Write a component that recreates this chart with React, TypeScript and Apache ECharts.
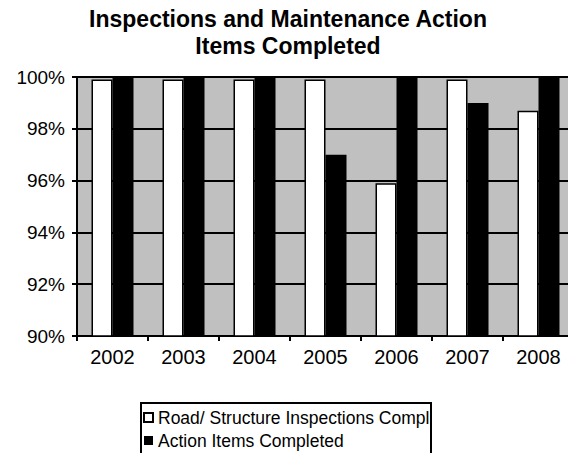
import React, { useEffect, useRef } from "react";
import * as echarts from "echarts";

const categories = ["2002", "2003", "2004", "2005", "2006", "2007", "2008"];
const inspections = [99.9, 99.9, 99.9, 99.9, 95.9, 99.9, 98.7];
const actionItems = [100, 100, 100, 97.0, 100, 99.0, 100];
const seriesNames = ["Road/ Structure Inspections Completed", "Action Items Completed"];
const titleText = "Inspections and Maintenance Action\nItems Completed";

export default function App() {
  const ref = useRef<HTMLDivElement>(null);
  useEffect(() => {
    const chart = echarts.init(ref.current!, null, { renderer: "svg" });
    const font = "'Liberation Sans', Arial, sans-serif";
    chart.setOption({
      animation: false,
      backgroundColor: "#ffffff",
      textStyle: { fontFamily: font },
      title: {
        text: titleText,
        left: "center",
        top: 0,
        textStyle: { fontFamily: font, fontSize: 23, fontWeight: "bold", color: "#000", lineHeight: 27 },
      },
      grid: {
        left: 77,
        right: 2,
        top: 77,
        bottom: 125,
        show: true,
        backgroundColor: "#c0c0c0",
        borderColor: "#808080",
        borderWidth: 1.5,
      },
      graphic: [
        {
          type: "polyline",
          silent: true,
          z: 10,
          shape: { points: [[141, 475], [141, 403], [431, 403], [431, 475]] },
          style: { stroke: "#000", lineWidth: 2, fill: null },
        },
      ],
      legend: {
        orient: "vertical",
        left: 140,
        top: 404,
        padding: [2, 4, 2, 3],
        itemGap: 0,
        itemWidth: 9,
        itemHeight: 9,
        textStyle: {
          fontFamily: font,
          fontSize: 17.5,
          color: "#000",
          lineHeight: 23,
          width: 274,
          overflow: "truncate",
          ellipsis: "",
        },
        data: [
          { name: seriesNames[0], icon: "rect", itemStyle: { color: "#fff", borderColor: "#000", borderWidth: 2 } },
          { name: seriesNames[1], icon: "rect", itemStyle: { color: "#000" } },
        ],
      },
      xAxis: {
        type: "category",
        data: categories,
        boundaryGap: true,
        axisLine: { show: true, lineStyle: { color: "#000", width: 2 } },
        axisTick: { show: true, length: 5, inside: false, lineStyle: { color: "#000", width: 2 } },
        axisLabel: { fontFamily: font, fontSize: 20, color: "#000", margin: 11 },
        splitLine: { show: false },
      },
      yAxis: {
        type: "value",
        min: 90,
        max: 100,
        interval: 2,
        axisLine: { show: true, lineStyle: { color: "#000", width: 2 } },
        axisTick: { show: true, length: 5, inside: false, lineStyle: { color: "#000", width: 2 } },
        axisLabel: { fontFamily: font, fontSize: 19, color: "#000", margin: 12, formatter: "{value}%" },
        splitLine: { show: true, lineStyle: { color: "#000", width: 2 } },
      },
      series: [
        {
          name: seriesNames[0],
          type: "bar",
          data: inspections,
          barWidth: 21,
          barGap: "0%",
          itemStyle: { color: "#ffffff", borderColor: "#000", borderWidth: 1.5 },
        },
        {
          name: seriesNames[1],
          type: "bar",
          data: actionItems,
          barWidth: 21,
          itemStyle: { color: "#000000" },
        },
      ],
    });
    return () => chart.dispose();
  }, []);
  return <div ref={ref} style={{ width: 576, height: 461, margin: -8 }} />;
}
